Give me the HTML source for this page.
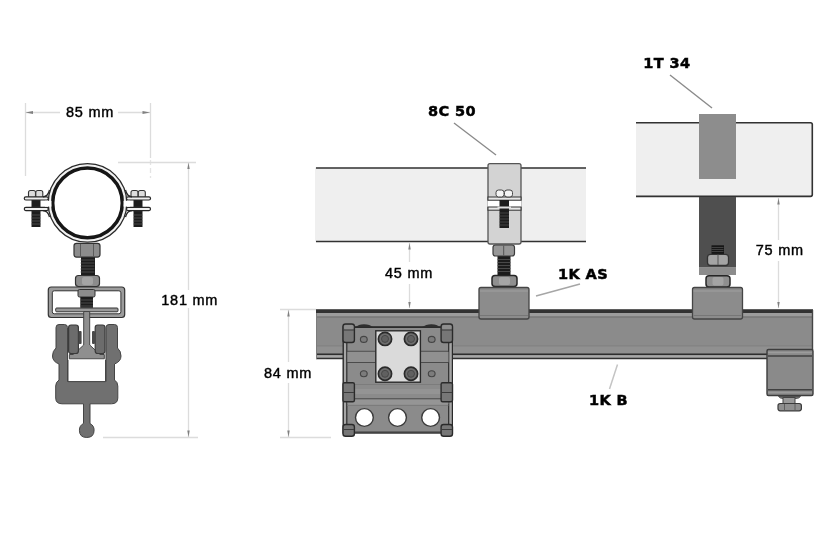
<!DOCTYPE html>
<html>
<head>
<meta charset="utf-8">
<title>Pipe support dimensions</title>
<style>
html,body{margin:0;padding:0;background:#fff;}
body{width:840px;height:560px;overflow:hidden;}
svg{display:block;}
.dim{font-family:"Liberation Sans",sans-serif;font-size:14.5px;fill:#000;stroke:#000;stroke-width:0.4px;letter-spacing:0.75px;}
.lbl{font-family:"DejaVu Sans","Liberation Sans",sans-serif;font-weight:bold;font-size:14.5px;fill:#000;stroke:#000;stroke-width:0.5px;letter-spacing:0.4px;}
</style>
</head>
<body>
<svg width="840" height="560" viewBox="0 0 840 560">
<defs>
<filter id="soft" x="-5%" y="-5%" width="110%" height="110%"><feGaussianBlur stdDeviation="0.55"/></filter>
</defs>
<rect width="840" height="560" fill="#fff"/>
<g filter="url(#soft)">
<!-- DIMLINES -->
<g id="dimlines" stroke="#dcdcdc" stroke-width="1.300" fill="none">
  <path d="M25.5 103V176M150.5 103V158M25 112.5H60M118 112.5H150"/>
  <path d="M150.5 160V178" stroke="#e4e4e4" stroke-dasharray="5 3"/>
  <path d="M118 162.5H196M188.5 162V290M188.500 308V437M103 437.500H198"/>
  <path d="M409.500 243V262M409.500 284V308"/>
  <path d="M778.500 198V240M778.500 261V308"/>
  <path d="M280 309.500H316M288.500 310V362M288.500 383V437M280 437.500H331"/>
  <g fill="#808080" stroke="none">
    <path d="M25.500 112.500L33 111V114Z"/>
    <path d="M150 112.500L142.500 111V114Z"/>
    <path d="M188.500 162.500L187.300 169H189.700Z"/>
    <path d="M188.500 437L187.300 430.500H189.700Z"/>
    <path d="M409.500 243L408.300 249.500H410.700Z"/>
    <path d="M409.500 308.500L408.300 302H410.700Z"/>
    <path d="M778.500 198L777.300 204.500H779.700Z"/>
    <path d="M778.500 308.500L777.300 302H779.700Z"/>
    <path d="M288.500 310L287.300 316.500H289.700Z"/>
    <path d="M288.500 437L287.300 430.500H289.700Z"/>
  </g>
</g>
<!-- LEADERS -->
<g id="leaders" stroke="#8a8a8a" stroke-width="1.4" fill="none">
  <path d="M454 123L496 155"/>
  <path d="M670 75L712 108"/>
  <path d="M536 296L580 284" stroke="#a6a6a6" stroke-width="1.400"/>
  <path d="M617.500 364.500L609.500 389" stroke="#c4c4c4" stroke-width="1.500"/>
</g>
<!-- LEFT -->
<g id="left">
  <!-- ears -->
  <g>
    <rect x="31.5" y="198" width="9" height="29" fill="#1f1f1f"/>
    <rect x="133.5" y="198" width="9" height="29" fill="#1f1f1f"/>
    <path d="M31.5 215H40.5M31.5 218H40.5M31.5 221H40.5M31.5 224H40.5M133.5 215H142.5M133.5 218H142.5M133.5 221H142.5M133.5 224H142.5" stroke="#555" stroke-width="0.7"/>
    <rect x="28.5" y="190.5" width="7" height="7.5" rx="2" fill="#ddd" stroke="#333" stroke-width="1.1"/>
    <rect x="35.8" y="190.5" width="7" height="7.5" rx="2" fill="#ddd" stroke="#333" stroke-width="1.1"/>
    <rect x="131" y="190.5" width="7" height="7.5" rx="2" fill="#ddd" stroke="#333" stroke-width="1.1"/>
    <rect x="138.3" y="190.5" width="7" height="7.5" rx="2" fill="#ddd" stroke="#333" stroke-width="1.1"/>
    <rect x="24.300" y="196.800" width="24" height="3.200" rx="1.500" fill="#eee" stroke="#262626" stroke-width="1.200"/>
    <rect x="24.300" y="207.400" width="24" height="3.200" rx="1.500" fill="#eee" stroke="#262626" stroke-width="1.200"/>
    <rect x="126.500" y="196.800" width="24" height="3.200" rx="1.500" fill="#eee" stroke="#262626" stroke-width="1.200"/>
    <rect x="126.500" y="207.400" width="24" height="3.200" rx="1.500" fill="#eee" stroke="#262626" stroke-width="1.200"/>
    <path d="M49.500 190Q48 196.600 43 196.800M49.500 217Q48 210.800 43 210.600M125.500 190Q127 196.600 132 196.800M125.500 217Q127 210.800 132 210.600" fill="none" stroke="#262626" stroke-width="1.300"/>
  </g>
  <!-- ring -->
  <circle cx="87.500" cy="202.900" r="39.300" fill="#f2f2f2" stroke="#2a2a2a" stroke-width="1.300"/>
  <circle cx="87.500" cy="202.900" r="34.800" fill="#fff" stroke="#161616" stroke-width="3.500"/>
  <rect x="45" y="200.800" width="6.500" height="5.800" fill="#fff"/>
  <rect x="123.500" y="200.800" width="6.500" height="5.800" fill="#fff"/>
  <!-- rod -->
  <rect x="81" y="256" width="14" height="21" fill="#1a1a1a"/>
  <path d="M80.5 260H94.5M80.5 263H94.5M80.5 266H94.5M80.5 269H94.5M80.5 272H94.5" stroke="#5a5a5a" stroke-width="0.8"/>
  <rect x="74" y="243.300" width="26" height="13.800" rx="2.500" fill="#8c8c8c" stroke="#333" stroke-width="1.200"/>
  <path d="M80.500 244V256.500M93.500 244V256.500" stroke="#555" stroke-width="0.900"/>
  <rect x="75.5" y="275.5" width="24" height="11" rx="3" fill="#8c8c8c" stroke="#333" stroke-width="1.2"/>
  <rect x="82" y="277" width="11" height="8" rx="2" fill="#a4a4a4"/>
  <!-- bracket -->
  <rect x="48.3" y="287" width="76.400" height="30.500" rx="3" fill="#9c9c9c" stroke="#333" stroke-width="1.2"/>
  <rect x="52.300" y="290.800" width="68.600" height="23" rx="2" fill="#fff" stroke="#333" stroke-width="1"/>
  <rect x="78" y="289.500" width="17" height="7.500" rx="1.500" fill="#8c8c8c" stroke="#333" stroke-width="1"/>
  <rect x="80.300" y="297" width="12.700" height="10.800" fill="#1a1a1a"/>
  <path d="M80.300 300H93M80.300 303H93M80.300 306H93" stroke="#5a5a5a" stroke-width="0.800"/>
  <rect x="55.700" y="308" width="62.300" height="3.800" rx="1" fill="#9a9a9a" stroke="#333" stroke-width="1"/>
  <!-- I-beam web -->
  <path d="M83.700 311.500H89.700V345L100 354.500H104.300V358.800H69.300V354.500H73.500L83.700 345Z" fill="#8f8f8f" stroke="#444" stroke-width="1"/>
  <!-- wheels -->
  <rect x="68.600" y="325" width="9.800" height="28.500" rx="2.500" fill="#6c6c6c" stroke="#3a3a3a" stroke-width="1.200"/>
  <rect x="95.200" y="325" width="9.800" height="28.500" rx="2.500" fill="#6c6c6c" stroke="#3a3a3a" stroke-width="1.200"/>
  <rect x="78.600" y="331" width="3" height="13" rx="1" fill="#4a4a4a"/>
  <rect x="92" y="331" width="3" height="13" rx="1" fill="#4a4a4a"/>
  <!-- trolley body -->
  <path d="M59 324.500Q56 324.500 56 327.500V348Q52.500 351 52.500 356Q52.500 361.500 59 364V380Q55.700 382 55.700 386V398Q55.700 403.800 62 403.800H83.500V423.500Q79.400 425.500 79.400 430.200Q79.400 437.500 86.750 437.500Q94.100 437.500 94.100 430.200Q94.100 425.500 90 423.500V403.800H111.500Q117.800 403.800 117.800 398V386Q117.800 382 114.500 380V364Q121 361.500 121 356Q121 351 117.500 348V327.500Q117.500 324.500 114.500 324.500H109Q106 324.500 106 327.500V381.500H67.500V327.500Q67.500 324.500 64.500 324.500Z" fill="#6f6f6f" stroke="#454545" stroke-width="1"/>
  <rect x="68" y="359.800" width="37.500" height="21.800" fill="#fff"/>
  <path d="M68 359.800V381.600H105.500V359.800" stroke="#444" stroke-width="1" fill="none"/>
</g>
<!-- RIGHT -->
<g id="right">
  <!-- pipe 1 -->
  <rect x="315" y="167.500" width="271" height="74" fill="#efefef"/>
  <path d="M316 168H586M316 241.500H586" stroke="#333" stroke-width="1.600" fill="none"/>
  <!-- pipe 2 -->
  <path d="M636 122.5H810.5Q812.5 122.5 812.5 124.5V194.5Q812.5 196.5 810.5 196.5H636Z" fill="#efefef"/>
  <path d="M636 122.8H810.5Q812.3 122.8 812.3 124.5V194.5Q812.3 196.4 810.5 196.4H636" stroke="#303030" stroke-width="1.600" fill="none"/>
  <!-- strap 1T 34 -->
  <rect x="699" y="114" width="37" height="65" fill="#8d8d8d"/>
  <rect x="699" y="197" width="37" height="70.500" fill="#505050"/>
  <rect x="699" y="267.200" width="37" height="7.800" fill="#8c8c8c"/>
  <!-- bolt in strap -->
  <rect x="711.500" y="245.300" width="12.500" height="9.200" fill="#141414"/>
  <path d="M711.5 247.5H723.5M711.5 249.5H723.5M711.5 251.5H723.5" stroke="#555" stroke-width="0.7"/>
  <rect x="707.500" y="254.300" width="21" height="11.200" rx="3" fill="#a4a4a4" stroke="#333" stroke-width="1.300"/>
  <path d="M718 254.5V265" stroke="#555" stroke-width="1"/>
  <!-- nut under strap -->
  <rect x="706" y="275.800" width="24" height="11.200" rx="3" fill="#8f8f8f" stroke="#262626" stroke-width="1.500"/>
  <rect x="712.5" y="277" width="11" height="8.5" rx="2" fill="#a4a4a4"/>
  <!-- clamp 8C 50 -->
  <rect x="488" y="163.600" width="33" height="80.400" rx="2" fill="#d3d3d3" stroke="#555" stroke-width="1.300"/>
  <rect x="487.5" y="200.5" width="34" height="6.5" fill="#fff"/>
  <rect x="488" y="197" width="33" height="3.2" fill="#e8e8e8" stroke="#333" stroke-width="1"/>
  <rect x="488" y="207" width="33" height="3.2" fill="#e8e8e8" stroke="#333" stroke-width="1"/>
  <rect x="496" y="190" width="8" height="7" rx="2.5" fill="#f4f4f4" stroke="#444" stroke-width="1"/>
  <rect x="504.5" y="190" width="8" height="7" rx="2.5" fill="#f4f4f4" stroke="#444" stroke-width="1"/>
  <rect x="499.5" y="200" width="9.5" height="28" fill="#1e1e1e"/>
  <rect x="497.5" y="206.5" width="13.5" height="2" fill="#ddd"/>
  <path d="M499.5 213H509M499.5 216H509M499.5 219H509M499.5 222H509M499.5 225H509" stroke="#4a4a4a" stroke-width="0.7"/>
  <!-- nuts & rod below clamp -->
  <rect x="497.5" y="255" width="13" height="22" fill="#1a1a1a"/>
  <path d="M497.5 259.5H510.5M497.5 262.5H510.5M497.5 265.5H510.5M497.5 268.5H510.5M497.5 271.5H510.5" stroke="#555" stroke-width="0.8"/>
  <rect x="493" y="245" width="21.5" height="11" rx="2.5" fill="#979797" stroke="#3a3a3a" stroke-width="1.2"/>
  <path d="M503.7 245.5V255.5" stroke="#555" stroke-width="1"/>
  <rect x="492" y="275.500" width="25" height="11" rx="3" fill="#8f8f8f" stroke="#262626" stroke-width="1.500"/>
  <rect x="499" y="277" width="11" height="8" rx="2" fill="#a6a6a6"/>
  <!-- rail -->
  <rect x="316" y="309.500" width="497" height="49" fill="#8b8b8b"/>
  <rect x="316" y="309.300" width="497" height="3.700" fill="#333"/>
  <rect x="316" y="313" width="497" height="3.500" fill="#9c9c9c"/>
  <path d="M316 317H813" stroke="#6e6e6e" stroke-width="1.200"/>
  <path d="M316 346H813" stroke="#7c7c7c" stroke-width="1"/>
  <rect x="316" y="346.500" width="497" height="7" fill="#909090"/>
  <path d="M316 354.400H770" stroke="#2e2e2e" stroke-width="1.600"/>
  <rect x="316" y="355.200" width="452" height="2.600" fill="#a8a8a8"/>
  <path d="M316 358.400H768" stroke="#333" stroke-width="1.500"/>
  <path d="M316.500 313V359" stroke="#7c7c7c" stroke-width="1"/>
  <path d="M812.5 310V350" stroke="#444" stroke-width="1.4"/>
  <!-- blocks on rail -->
  <rect x="479" y="287.5" width="50" height="31.5" rx="2" fill="#8c8c8c" stroke="#444" stroke-width="1.3"/>
  <path d="M480 291H528" stroke="#a0a0a0" stroke-width="1"/>
  <path d="M480 315.5H528" stroke="#777" stroke-width="1"/>
  <rect x="692.5" y="287.5" width="50" height="31.5" rx="2" fill="#8c8c8c" stroke="#444" stroke-width="1.3"/>
  <path d="M693.5 291H741.5" stroke="#a0a0a0" stroke-width="1"/>
  <path d="M693.5 315.5H741.5" stroke="#777" stroke-width="1"/>
  <!-- end bracket -->
  <rect x="767" y="349.500" width="46" height="46" rx="1.500" fill="#8a8a8a" stroke="#3c3c3c" stroke-width="1.400"/>
  <path d="M768 356H812" stroke="#3f3f3f" stroke-width="1.400"/>
  <path d="M768 352.500H812" stroke="#9c9c9c" stroke-width="1.500"/>
  <path d="M768 389.700H812" stroke="#3f3f3f" stroke-width="1.400"/>
  <path d="M768 392.500H812" stroke="#9a9a9a" stroke-width="1.500"/>
  <path d="M778.500 396.500Q780 398.500 783 398.500H796Q799 398.500 800.500 396.500Z" fill="#777" stroke="#3c3c3c" stroke-width="0.800"/>
  <rect x="783" y="397.500" width="12" height="6" fill="#9a9a9a" stroke="#444" stroke-width="1"/>
  <rect x="778" y="403.500" width="23.400" height="7.300" rx="2.200" fill="#8f8f8f" stroke="#3a3a3a" stroke-width="1.200"/>
  <path d="M784.500 404V410.500M795 404V410.500" stroke="#5a5a5a" stroke-width="0.900"/>
  <!-- trolley -->
  <rect x="343.200" y="327" width="109.100" height="106" fill="#8b8b8b" stroke="#2c2c2c" stroke-width="1.400"/>
  <rect x="344" y="343" width="2.600" height="81" fill="#a6a6a6"/>
  <rect x="449" y="343" width="2.600" height="81" fill="#a6a6a6"/>
  <path d="M346.800 343V424M448.700 343V424" stroke="#2e2e2e" stroke-width="1.200"/>
  <rect x="347.500" y="352" width="101" height="10" fill="#909090"/>
  <rect x="347.500" y="399.500" width="101" height="5" fill="#959595"/>
  <rect x="347.500" y="389" width="101" height="5" fill="#949494"/>
  <path d="M347 351.300H448.500M347 362.500H448.500M347 398.800H448.500" stroke="#4c4c4c" stroke-width="1.100"/>
  <path d="M347 384.500H448.500M347 405.500H448.500" stroke="#777" stroke-width="0.800"/>
  <path d="M354.500 432H441" stroke="#3f3f3f" stroke-width="1.100"/>
  <path d="M354.500 327.300H441" stroke="#2c2c2c" stroke-width="1.600"/>
  <path d="M356 327.300Q358 324.300 364 324.300Q370 324.300 373 327.300ZM439.500 327.300Q437.500 324.300 431.500 324.300Q425.500 324.300 422.500 327.300Z" fill="#2e2e2e"/>
  <!-- corner blocks -->
  <g fill="#777" stroke="#2c2c2c" stroke-width="1.400">
    <rect x="343" y="324" width="11.400" height="18.500" rx="2.500"/>
    <rect x="441.100" y="324" width="11.400" height="18.500" rx="2.500"/>
    <rect x="343" y="382.800" width="11.400" height="19" rx="1.500"/>
    <rect x="441.100" y="382.800" width="11.400" height="19" rx="1.500"/>
    <rect x="343" y="424.500" width="11.400" height="11.700" rx="2.500"/>
    <rect x="441.100" y="424.500" width="11.400" height="11.700" rx="2.500"/>
  </g>
  <g fill="#8e8e8e">
    <rect x="344" y="325" width="9.400" height="4.500" rx="1.500"/>
    <rect x="442.100" y="325" width="9.400" height="4.500" rx="1.500"/>
  </g>
  <path d="M343.500 330H354M441.500 330H452M343.500 392.500H354M441.500 392.500H452M343.500 429.500H354M441.500 429.500H452" stroke="#3a3a3a" stroke-width="1"/>
  <!-- plate -->
  <rect x="375.800" y="330.800" width="44.600" height="51.400" fill="#dadada" stroke="#2c2c2c" stroke-width="1.400"/>
  <g fill="#6d6d6d" stroke="#2c2c2c" stroke-width="1.700">
    <circle cx="385" cy="338.900" r="6.600"/><circle cx="411" cy="338.900" r="6.600"/>
    <circle cx="385" cy="373.800" r="6.600"/><circle cx="411" cy="373.800" r="6.600"/>
  </g>
  <g fill="#606060" stroke="#454545" stroke-width="0.900">
    <circle cx="385" cy="338.900" r="3.500"/><circle cx="411" cy="338.900" r="3.500"/>
    <circle cx="385" cy="373.800" r="3.500"/><circle cx="411" cy="373.800" r="3.500"/>
  </g>
  <g fill="#7c7c7c" stroke="#444" stroke-width="1.100">
    <ellipse cx="363.800" cy="339.400" rx="3.400" ry="3"/><ellipse cx="431.700" cy="339.400" rx="3.400" ry="3"/>
    <ellipse cx="363.800" cy="373.800" rx="3.400" ry="3"/><ellipse cx="431.700" cy="373.800" rx="3.400" ry="3"/>
  </g>
  <g fill="#fff" stroke="#3a3a3a" stroke-width="1.400">
    <circle cx="364.400" cy="417.500" r="8.900"/><circle cx="397.500" cy="417.500" r="8.900"/><circle cx="430.600" cy="417.500" r="8.900"/>
  </g>
</g>
</g>
<!-- TEXT -->
<g id="labels" filter="url(#soft)">
<text class="dim" x="66" y="117.200">85 mm</text>
<text class="dim" x="161.300" y="304.800">181 mm</text>
<text class="dim" x="385" y="278">45 mm</text>
<text class="dim" x="264" y="378.100">84 mm</text>
<text class="dim" x="755.800" y="255">75 mm</text>
<text class="lbl" x="428" y="115.500">8C 50</text>
<text class="lbl" x="643.300" y="67.500">1T 34</text>
<text class="lbl" x="558" y="279">1K AS</text>
<text class="lbl" x="589" y="405.100">1K B</text>
</g>
</svg>
</body>
</html>
